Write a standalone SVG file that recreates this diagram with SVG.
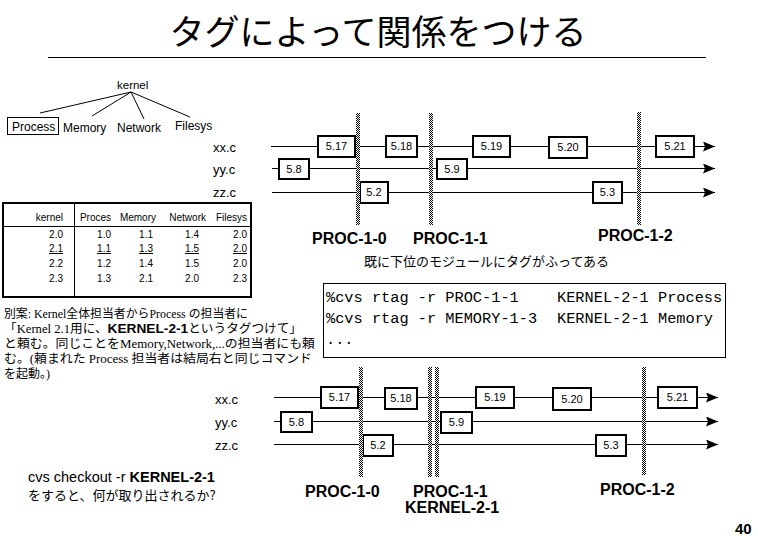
<svg xmlns="http://www.w3.org/2000/svg" width="758" height="536" viewBox="0 0 758 536">
<style>
.s{font-family:"Liberation Sans",Arial,sans-serif;fill:#000}
.j{font-family:"Noto Sans CJK JP",sans-serif;fill:#000}
.b{font-family:"Liberation Sans",Arial,sans-serif;font-weight:bold;fill:#000}
.m{font-family:"Liberation Mono",monospace;font-size:15.3px;fill:#000}
.ser{font-family:"Liberation Serif","Noto Sans CJK JP",serif;font-size:12px;fill:#000}
.bx{fill:#fff;stroke:#000;stroke-width:2}
.bt{font-family:"Liberation Sans",Arial,sans-serif;font-size:11px;text-anchor:middle;fill:#000}
.ln{stroke:#000;stroke-width:1;fill:none}
.tl{stroke:#000;stroke-width:1;fill:none;marker-end:url(#arr)}
.fl{font-family:"Liberation Sans",Arial,sans-serif;font-size:13px;fill:#000}
.tb{font-family:"Liberation Sans",Arial,sans-serif;font-size:10px;fill:#000;text-anchor:end}
</style>
<defs>
<pattern id="hatch" width="2" height="2" patternUnits="userSpaceOnUse">
<rect width="2" height="2" fill="#fff"/>
<rect width="1" height="1" fill="#000"/>
<rect x="1" y="1" width="1" height="1" fill="#000"/>
</pattern>
<marker id="arr" markerUnits="userSpaceOnUse" markerWidth="13" markerHeight="10" refX="12" refY="5" orient="auto">
<path d="M0,0 L12,5 L0,10 L2,5 z" fill="#000"/>
</marker>
</defs>
<rect width="758" height="536" fill="#fff"/>

<g id="title">
<text class="j" x="378" y="45" font-size="35" text-anchor="middle">タグによって関係をつける</text>
<line class="ln" x1="48" y1="57.5" x2="706" y2="57.5"/>
</g>

<g id="tree">
<text class="s" x="117" y="89" font-size="11.5">kernel</text>
<g class="ln">
<line x1="131" y1="92" x2="40" y2="113"/>
<line x1="131" y1="92" x2="92" y2="116"/>
<line x1="131" y1="92" x2="144" y2="119"/>
<line x1="131" y1="92" x2="190" y2="117"/>
</g>
<rect x="7.5" y="117.5" width="51" height="17" fill="none" stroke="#000"/>
<text class="s" x="12" y="131" font-size="12">Process</text>
<text class="s" x="63" y="132" font-size="12">Memory</text>
<text class="s" x="117" y="132" font-size="12">Network</text>
<text class="s" x="175" y="130" font-size="12">Filesys</text>
</g>

<g id="table">
<rect x="3" y="203" width="248" height="94" fill="none" stroke="#000" stroke-width="2"/>
<line class="ln" x1="74.5" y1="203" x2="74.5" y2="297"/>
<line class="ln" x1="3" y1="226.5" x2="251" y2="226.5"/>
<text class="tb" x="63" y="221">kernel</text>
<text class="tb" x="111" y="221">Proces</text>
<text class="tb" x="156" y="221">Memory</text>
<text class="tb" x="206" y="221">Network</text>
<text class="tb" x="247" y="221">Filesys</text>
<text class="tb" x="63" y="238">2.0</text><text class="tb" x="111" y="238">1.0</text><text class="tb" x="153" y="238">1.1</text><text class="tb" x="199" y="238">1.4</text><text class="tb" x="247" y="238">2.0</text>
<text class="tb" x="63" y="252" text-decoration="underline">2.1</text><text class="tb" x="111" y="252" text-decoration="underline">1.1</text><text class="tb" x="153" y="252" text-decoration="underline">1.3</text><text class="tb" x="199" y="252" text-decoration="underline">1.5</text><text class="tb" x="247" y="252" text-decoration="underline">2.0</text>
<text class="tb" x="63" y="267">2.2</text><text class="tb" x="111" y="267">1.2</text><text class="tb" x="153" y="267">1.4</text><text class="tb" x="199" y="267">1.5</text><text class="tb" x="247" y="267">2.0</text>
<text class="tb" x="63" y="282">2.3</text><text class="tb" x="111" y="282">1.3</text><text class="tb" x="153" y="282">2.1</text><text class="tb" x="199" y="282">2.0</text><text class="tb" x="247" y="282">2.3</text>
</g>

<g id="connectors">
<line class="tl" x1="271" y1="146.5" x2="715" y2="146.5"/>
<line class="tl" x1="272" y1="168.5" x2="715" y2="168.5"/>
<line class="tl" x1="272" y1="192.5" x2="715" y2="192.5"/>
<line class="tl" x1="274" y1="397.5" x2="718" y2="397.5"/>
<line class="tl" x1="274" y1="421.5" x2="718" y2="421.5"/>
<line class="tl" x1="274" y1="444.5" x2="718" y2="444.5"/>
</g>

<g id="top-timeline">
<text class="fl" x="213" y="152">xx.c</text>
<text class="fl" x="213" y="174">yy.c</text>
<text class="fl" x="213" y="197">zz.c</text>
<rect class="bx" x="318" y="136" width="37" height="21"/><text class="bt" x="336.5" y="150">5.17</text>
<rect class="bx" x="386" y="136" width="31" height="21"/><text class="bt" x="401.5" y="150">5.18</text>
<rect class="bx" x="473" y="136" width="37" height="21"/><text class="bt" x="491.5" y="150">5.19</text>
<rect class="bx" x="549" y="137" width="38" height="21"/><text class="bt" x="568" y="151">5.20</text>
<rect class="bx" x="656" y="136" width="38" height="21"/><text class="bt" x="675" y="150">5.21</text>
<rect class="bx" x="279" y="159" width="30" height="20"/><text class="bt" x="294" y="173">5.8</text>
<rect class="bx" x="437" y="159" width="30" height="20"/><text class="bt" x="452" y="173">5.9</text>
<rect class="bx" x="360" y="182" width="28" height="21"/><text class="bt" x="374" y="196">5.2</text>
<rect class="bx" x="593" y="182" width="29" height="21"/><text class="bt" x="607.5" y="196">5.3</text>
<rect x="356" y="113" width="4" height="112" fill="url(#hatch)"/>
<rect x="429" y="113" width="4" height="112" fill="url(#hatch)"/>
<rect x="637" y="112" width="4" height="113" fill="url(#hatch)"/>
<text class="b" x="312" y="244" font-size="16">PROC-1-0</text>
<text class="b" x="413" y="244" font-size="16">PROC-1-1</text>
<text class="b" x="598" y="241" font-size="16">PROC-1-2</text>
<text class="j" x="364" y="266" font-size="13">既に下位のモジュールにタグがふってある</text>
</g>

<g id="command">
<rect x="323.5" y="283.5" width="402" height="74" fill="#fff" stroke="#000"/>
<text class="m" x="326" y="302">%cvs rtag -r PROC-1-1</text>
<text class="m" x="557" y="302">KERNEL-2-1 Process</text>
<text class="m" x="326" y="323">%cvs rtag -r MEMORY-1-3</text>
<text class="m" x="557" y="323">KERNEL-2-1 Memory</text>
<text class="m" x="326" y="344">...</text>
</g>

<g id="note">
<text class="ser" x="4" y="318" textLength="244" lengthAdjust="spacingAndGlyphs">別案: Kernel全体担当者からProcess の担当者に</text>
<text class="ser" x="4" y="333" textLength="298" lengthAdjust="spacingAndGlyphs">「Kernel 2.1用に、<tspan class="b" font-size="13">KERNEL-2-1</tspan>というタグつけて」</text>
<text class="ser" x="4" y="348" textLength="311" lengthAdjust="spacingAndGlyphs">と頼む。同じことをMemory,Network,...の担当者にも頼</text>
<text class="ser" x="4" y="363" textLength="308" lengthAdjust="spacingAndGlyphs">む。(頼まれた Process 担当者は結局右と同じコマンド</text>
<text class="ser" x="4" y="378">を起動。)</text>
</g>

<g id="bottom-timeline">
<text class="fl" x="215" y="404">xx.c</text>
<text class="fl" x="215" y="427">yy.c</text>
<text class="fl" x="215" y="450">zz.c</text>
<rect class="bx" x="321" y="387" width="37" height="21"/><text class="bt" x="339.5" y="401">5.17</text>
<rect class="bx" x="385" y="388" width="32" height="21"/><text class="bt" x="401" y="402">5.18</text>
<rect class="bx" x="476" y="387" width="38" height="21"/><text class="bt" x="495" y="401">5.19</text>
<rect class="bx" x="553" y="388" width="38" height="22"/><text class="bt" x="572" y="403">5.20</text>
<rect class="bx" x="658" y="387" width="39" height="21"/><text class="bt" x="677.5" y="401">5.21</text>
<rect class="bx" x="281" y="412" width="31" height="20"/><text class="bt" x="296.5" y="426">5.8</text>
<rect class="bx" x="441" y="412" width="31" height="21"/><text class="bt" x="456.5" y="426">5.9</text>
<rect class="bx" x="363" y="435" width="30" height="21"/><text class="bt" x="378" y="449">5.2</text>
<rect class="bx" x="596" y="435" width="30" height="21"/><text class="bt" x="611" y="449">5.3</text>
<rect x="359" y="367" width="4" height="110" fill="url(#hatch)"/>
<rect x="428" y="367" width="4" height="110" fill="url(#hatch)"/>
<rect x="435" y="367" width="4" height="110" fill="url(#hatch)"/>
<rect x="642" y="367" width="4" height="108" fill="url(#hatch)"/>
<text class="b" x="305" y="497" font-size="16">PROC-1-0</text>
<text class="b" x="413" y="497" font-size="16">PROC-1-1</text>
<text class="b" x="405" y="513" font-size="16">KERNEL-2-1</text>
<text class="b" x="600" y="495" font-size="16">PROC-1-2</text>
</g>

<g id="question">
<text class="s" x="28" y="482" font-size="14.5">cvs checkout -r <tspan class="b">KERNEL-2-1</tspan></text>
<text class="j" x="28" y="500" font-size="13">をすると、何が取り出されるか?</text>
</g>

<text class="b" x="735" y="534" font-size="15">40</text>
</svg>
